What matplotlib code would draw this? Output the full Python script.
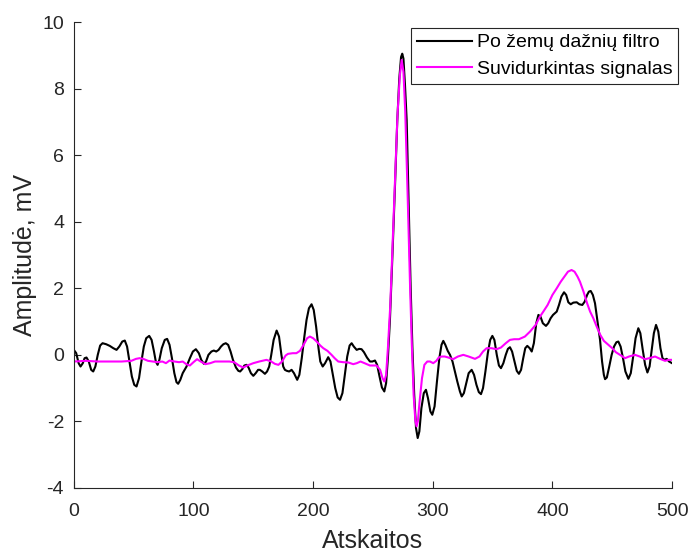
import matplotlib
matplotlib.use("Agg")
import matplotlib.pyplot as plt

# black line: filtered signal (sample index, amplitude mV)
filt_x = [0, 2, 4, 5.6, 7.5, 9, 10.6, 12.5, 14.5, 16.2, 18, 20, 22, 24, 27, 30, 33, 35.7, 38, 40.5,
          42.6, 44.5, 46.5, 48.5, 50.5, 52.4, 54.5, 56.5, 58.5, 60.5, 63, 65, 67, 68.5, 70, 71.5, 73.5,
          76, 78, 80, 82, 84, 85.8, 87.2, 89, 91, 94.2, 97, 99.5, 102, 104.5, 106.5, 108.7, 110.5, 112.5,
          115, 117, 119, 121, 123, 125, 127, 129, 131, 133, 135.5, 137.5, 139, 141, 142.5, 144.4, 146,
          148, 150, 152, 154, 155.5, 157.5, 159.7, 161.5, 163.3, 165, 167, 169.5, 171.5, 173.5, 175,
          176.4, 178, 180, 182, 184, 186.7, 188.5, 190.5, 192.5, 194.5, 196.5, 198.7, 200.5, 202.5,
          204.5, 206, 208, 210, 212.6, 214.5, 216.5, 218.5, 220.5, 222.5, 224.5, 226.5, 228.5, 230.5,
          232.2, 234, 236.4, 238.5, 240.5, 242.5, 245, 247.5, 249.5, 251.7, 253.5, 255.5, 257.5, 259.5,
          261, 262.5, 264.2, 266.3, 268.4, 270.3, 272, 273.5, 274.5, 275.5, 276.8, 278.2, 279.8, 281.5,
          283, 284.5, 286, 287.4, 288.8, 290.5, 292.5, 294.3, 296, 298, 299.6, 301.5, 303.5, 305.5,
          307.3, 308.8, 310.5, 312.5, 314.4, 316.5, 318.5, 320.5, 322.7, 324.2, 326, 328, 330, 332.5,
          334.5, 336.5, 338.5, 340.3, 342, 344, 346, 348, 349.8, 351.5, 353.5, 355.3, 357, 359, 361,
          362.8, 364.5, 366.3, 368.3, 370.2, 372, 373.8, 375.6, 377.3, 379, 381, 382.7, 384.5, 386.5,
          388.3, 390, 392, 394.6, 396.5, 398.5, 400.5, 403.6, 405.5, 407.5, 409.7, 411.5, 413.3, 415.3,
          417.5, 420.3, 422.5, 425, 427, 429, 430.5, 432, 433.8, 435.6, 437.5, 439.8, 441.5, 443, 444,
          445.5, 447.5, 449.5, 451.5, 453.5, 455.1, 457, 459, 461, 463.5, 465.5, 467.5, 469.5, 471.8,
          473.5, 475.5, 477.5, 479.4, 481.2, 483, 484.8, 486.6, 488.5, 490.3, 492, 493.6, 495.5, 497.5,
          500]
filt_y = [0.15, 0.05, -0.25, -0.35, -0.25, -0.1, -0.08, -0.2, -0.45, -0.5, -0.35, 0.0, 0.28, 0.35,
          0.32, 0.27, 0.2, 0.15, 0.25, 0.4, 0.43, 0.25, -0.2, -0.65, -0.9, -0.95, -0.7, -0.2, 0.25, 0.5,
          0.57, 0.45, 0.1, -0.2, -0.3, -0.15, 0.2, 0.45, 0.48, 0.3, -0.1, -0.55, -0.82, -0.87, -0.75,
          -0.55, -0.35, -0.1, 0.1, 0.17, 0.05, -0.15, -0.27, -0.2, 0.0, 0.1, 0.13, 0.1, 0.15, 0.25, 0.32,
          0.35, 0.3, 0.1, -0.15, -0.38, -0.48, -0.5, -0.42, -0.32, -0.3, -0.38, -0.55, -0.63, -0.55,
          -0.45, -0.45, -0.5, -0.57, -0.5, -0.35, 0.0, 0.45, 0.73, 0.55, 0.0, -0.35, -0.45, -0.48, -0.5,
          -0.45, -0.55, -0.75, -0.6, -0.1, 0.5, 1.05, 1.4, 1.52, 1.35, 0.85, 0.2, -0.2, -0.35, -0.25,
          -0.07, -0.2, -0.6, -1.0, -1.28, -1.35, -1.15, -0.6, -0.05, 0.28, 0.35, 0.25, 0.15, 0.18, 0.17,
          0.08, -0.08, -0.2, -0.2, -0.17, -0.3, -0.65, -0.98, -1.1, -0.85, -0.1, 1.05, 3.0, 5.05, 7.0,
          8.3, 8.95, 9.05, 8.9, 8.1, 7.05, 4.6, 2.05, 0.2, -1.2, -2.2, -2.5, -2.3, -1.6, -1.15, -1.05,
          -1.3, -1.7, -1.8, -1.55, -0.8, -0.1, 0.3, 0.42, 0.3, 0.12, 0.0, -0.2, -0.5, -0.8, -1.1, -1.25,
          -1.15, -0.85, -0.55, -0.45, -0.6, -0.9, -1.12, -1.18, -1.0, -0.5, 0.05, 0.45, 0.57, 0.45, 0.0,
          -0.32, -0.4, -0.25, 0.0, 0.18, 0.23, 0.1, -0.2, -0.48, -0.57, -0.45, -0.1, 0.2, 0.27, 0.2, 0.1,
          0.35, 0.95, 1.2, 1.15, 0.95, 0.87, 0.95, 1.1, 1.2, 1.3, 1.5, 1.75, 1.88, 1.8, 1.58, 1.52, 1.57,
          1.58, 1.52, 1.5, 1.6, 1.8, 1.9, 1.92, 1.8, 1.55, 1.05, 0.45, -0.2, -0.6, -0.73, -0.68, -0.35,
          0.0, 0.25, 0.38, 0.4, 0.25, -0.1, -0.5, -0.72, -0.55, -0.05, 0.5, 0.8, 0.65, 0.15, -0.3, -0.53,
          -0.35, 0.15, 0.65, 0.9, 0.7, 0.2, -0.1, -0.15, -0.12, -0.2, -0.25]

# magenta line: averaged signal
avg_x = [0, 10, 20, 30, 40, 48, 52, 55, 58, 62, 66, 70, 74, 77, 80, 84, 88, 91, 94, 97, 100, 103, 106,
         110, 114, 118, 124, 130, 134, 138, 141.6, 145, 150, 155, 161, 165, 168, 171, 174, 177, 179,
         183, 186, 189, 192, 195, 197.3, 200, 203, 206, 208.5, 212, 215.4, 218, 221, 225, 229.5, 233.5,
         236.5, 239.6, 243, 247.5, 253, 256, 258, 259.5, 261, 262.5, 264.5, 266.5, 268.5, 270.5, 272.5,
         274, 275.5, 277, 279, 281, 282.5, 284, 285.5, 286.5, 287.5, 289, 291, 293, 295.4, 297.7, 300.4,
         303, 305, 307.4, 310, 313, 317, 321, 325.5, 330, 335.3, 339, 342, 345, 349, 353.4, 357, 361,
         364.5, 368, 372, 377, 381.3, 386, 389.6, 392.4, 396, 400, 403.6, 407, 410, 413, 416, 418.5, 421,
         423, 426, 429, 431.5, 434.2, 437, 440, 443, 446.8, 450, 453, 456.5, 460.7, 464, 469, 473, 477.4,
         481, 485.8, 490, 494.2, 497, 500]
avg_y = [-0.2, -0.18, -0.2, -0.2, -0.2, -0.18, -0.12, -0.1, -0.12, -0.18, -0.2, -0.22, -0.2, -0.25,
         -0.17, -0.2, -0.22, -0.2, -0.28, -0.32, -0.22, -0.13, -0.2, -0.28, -0.25, -0.2, -0.2, -0.2,
         -0.22, -0.32, -0.38, -0.32, -0.25, -0.2, -0.15, -0.2, -0.27, -0.3, -0.2, -0.02, 0.03, 0.05, 0.05,
         0.12, 0.3, 0.5, 0.55, 0.5, 0.4, 0.28, 0.2, 0.12, 0.0, -0.1, -0.2, -0.22, -0.23, -0.28, -0.25,
         -0.2, -0.25, -0.32, -0.32, -0.45, -0.7, -0.8, -0.6, 0.2, 1.5, 3.4, 5.3, 7.2, 8.4, 8.86, 8.5, 7.3,
         4.8, 2.1, 0.3, -1.2, -2.0, -2.15, -2.0, -1.4, -0.7, -0.3, -0.2, -0.2, -0.25, -0.18, -0.08,
         -0.05, -0.05, -0.08, -0.13, -0.05, 0.0, -0.05, -0.12, -0.05, 0.1, 0.2, 0.2, 0.17, 0.22, 0.35,
         0.45, 0.47, 0.47, 0.55, 0.7, 0.9, 1.15, 1.3, 1.5, 1.8, 2.0, 2.2, 2.35, 2.5, 2.55, 2.5, 2.35,
         2.2, 1.9, 1.55, 1.3, 1.1, 0.85, 0.6, 0.42, 0.3, 0.2, 0.08, 0.0, -0.1, -0.05, 0.0, -0.05, -0.13,
         -0.1, -0.05, -0.12, -0.18, -0.15, -0.15]

plt.rcParams['font.family'] = ['Liberation Sans', 'DejaVu Sans']
plt.rcParams['axes.unicode_minus'] = False
grey = '#262626'

fig = plt.figure(figsize=(6.9, 5.52), dpi=100)
ax = fig.add_axes([0.107, 0.116, 0.867, 0.844])

ax.plot(filt_x, filt_y, color='black', lw=1.5, label='Po žemų dažnių filtro')
ax.plot(avg_x, avg_y, color='#ff00ff', lw=1.5, label='Suvidurkintas signalas')

ax.set_xlim(0, 500)
ax.set_ylim(-4, 10)
ax.set_xticks(range(0, 501, 100))
ax.set_yticks(range(-4, 11, 2))
ax.tick_params(direction='in', length=5, width=0.8, labelsize=14, colors=grey)
ax.tick_params(axis='x', pad=11)
ax.tick_params(axis='y', pad=7)
for s in ['top', 'right']:
    ax.spines[s].set_visible(False)
for s in ['left', 'bottom']:
    ax.spines[s].set_color(grey)
    ax.spines[s].set_linewidth(0.8)

ax.set_xlabel('Atskaitos', fontsize=18, color=grey, labelpad=6)
ax.set_ylabel('Amplitudė, mV', fontsize=18, color=grey, labelpad=4)

leg = ax.legend(loc='upper right', bbox_to_anchor=(678 / 690, 1 - 28 / 552),
                bbox_transform=fig.transFigure, borderaxespad=0, fontsize=14,
                fancybox=False, framealpha=1, edgecolor=grey, handlelength=2.8,
                handletextpad=0.25, borderpad=0.3, labelspacing=0.45)
leg.get_frame().set_linewidth(0.8)

fig.savefig('out.png', dpi=100)
